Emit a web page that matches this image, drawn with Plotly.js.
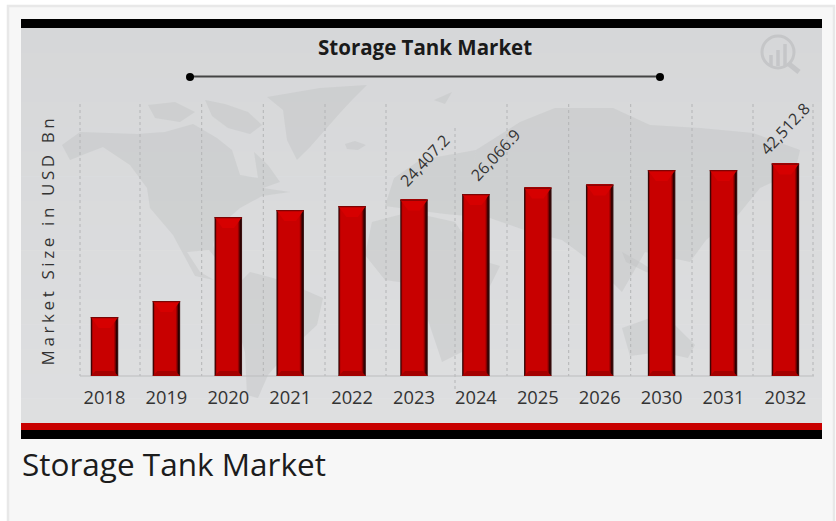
<!DOCTYPE html>
<html>
<head>
<meta charset="utf-8">
<script src="https://cdn.plot.ly/plotly-3.0.1.min.js"></script>
<style>
html,body{margin:0;padding:0;background:#fff;overflow:hidden}
#chart{width:836px;height:521px}
.ytitle{letter-spacing:3.6px}
</style>
</head>
<body>
<div id="chart"></div>
<script>
// Data. Bar heights are not proportional to the printed
// labels in the source, so heights and labels are kept separately.
const categories = ["2018","2019","2020","2021","2022","2023","2024","2025","2026","2030","2031","2032"];
const barValues = [11800,15000,31800,33200,34000,35300,36400,37700,38300,41200,41200,42512.8];
const labelledYears = ["2023","2024","2032"];
const labelTexts = ["24,407.2","26,066.9","42,512.8"];
const chartTitle = "Storage Tank Market";
const axisTitle = "Market Size in USD Bn";

const W=836,H=521,L=80,R=814,T=104,B=376;
const px=x=>(x-L)/(R-L), py=y=>(B-y)/(B-T);
const yPerPx=200.06, xPerPx=1/61.9;
const xs=categories.map((c,i)=>i);
const barW=27.5*xPerPx;

function rect(x0,y0,x1,y1,fill){return {type:'rect',xref:'paper',yref:'paper',x0:px(x0),x1:px(x1),y0:py(y1),y1:py(y0),fillcolor:fill,line:{width:0},layer:'below'};}
function poly(pts,fill){return {type:'path',xref:'paper',yref:'paper',layer:'below',fillcolor:fill,line:{width:0},
  path:'M'+pts.map(p=>px(p[0]).toFixed(4)+','+py(p[1]).toFixed(4)).join('L')+'Z'};}
function line(x0,y0,x1,y1,color,width,dash,layer){return {type:'line',xref:'paper',yref:'paper',x0:px(x0),x1:px(x1),y0:py(y0),y1:py(y1),line:{color:color,width:width,dash:dash||'solid'},layer:layer||'below'};}
function circle(cx,cy,r,fill,stroke,sw){return {type:'circle',xref:'paper',yref:'paper',x0:px(cx-r),x1:px(cx+r),y0:py(cy+r),y1:py(cy-r),fillcolor:fill,line:{color:stroke||fill,width:sw||0},layer:'below'};}

const shapes=[];
// page frame
shapes.push({type:'rect',xref:'paper',yref:'paper',x0:px(8),x1:px(834),y0:py(530),y1:py(6),fillcolor:'#f7f7f7',line:{color:'#e8e8e8',width:2.5},layer:'below'});
// panel with soft vertical shading
const bandCount=16;
for(let i=0;i<bandCount;i++){
  const t=i/(bandCount-1);
  const v=[Math.round(214+t*8),Math.round(215+t*8),Math.round(217+t*7)];
  shapes.push(rect(21,28+i*(395/bandCount),822,28+(i+1)*(395/bandCount)+0.5,`rgb(${v[0]},${v[1]},${v[2]})`));
}
// world map watermark
const land='rgba(190,191,192,0.38)';
[
 [[62,145],[80,132],[137,134],[165,132],[193,124],[217,138],[232,150],[240,175],[258,178],[254,152],[268,165],[280,182],[263,188],[290,192],[262,196],[240,208],[217,228],[213,245],[219,262],[209,250],[187,252],[200,272],[214,280],[195,276],[173,235],[150,208],[147,188],[130,165],[103,147],[90,152],[70,160]],
 [[205,100],[225,104],[248,112],[262,125],[250,134],[228,128],[212,116]],
 [[148,105],[175,102],[195,112],[180,122],[155,118]],
 [[250,272],[273,278],[300,288],[323,298],[317,325],[290,350],[268,375],[258,398],[247,395],[245,352],[233,312],[230,292]],
 [[267,97],[320,88],[367,85],[352,100],[340,113],[325,130],[310,147],[297,160],[287,140],[283,110]],
 [[345,144],[355,141],[366,145],[358,150],[347,149]],
 [[476,150],[520,122],[555,108],[613,108],[650,125],[700,128],[753,133],[800,150],[795,172],[760,188],[738,215],[706,240],[690,262],[645,252],[622,292],[592,262],[562,240],[530,232],[490,218],[470,190]],
 [[385,206],[394,178],[420,160],[476,150],[470,190],[490,218],[445,214]],
 [[372,222],[410,212],[455,222],[480,260],[500,266],[478,310],[462,352],[442,362],[428,320],[420,285],[385,280],[365,255]],
 [[622,328],[650,318],[672,322],[695,345],[688,358],[660,352],[630,356]],
 [[622,252],[640,262],[662,276],[646,272],[626,262]],
 [[434,100],[452,92],[445,104]]
].forEach(p=>shapes.push(poly(p,land)));
// logo watermark
shapes.push(circle(778,52,16,'rgba(0,0,0,0)','#c5c6c8',3));
shapes.push(line(789,64,799,72,'#c5c6c8',5));
shapes.push(line(771,66,771,55,'#c5c6c8',3.5));
shapes.push(line(778,66,778,50,'#c5c6c8',3.5));
shapes.push(line(785,66,785,44,'#c5c6c8',3.5));
// bands
shapes.push(rect(21,19,822,28,'#000000'));
shapes.push(rect(21,423,822,430,'#c80000'));
shapes.push(rect(21,430,822,439,'#000000'));
// title rule
shapes.push(line(190,76.5,660,76.5,'#444444',2));
shapes.push(circle(190,77,4,'#000000'));
shapes.push(circle(660,77,4,'#000000'));
// dotted dividers
[80,140,201.7,263.3,325,386,507,568.7,630.7,692,753,813].forEach(x=>shapes.push(line(x,104,x,376,'#b3b4b6',1,'dot')));
shapes.push(line(455,128,455,391,'#b3b4b6',1,'dot'));
shapes.push(line(80,376,814,376,'#bcbdbe',1));
// bevels on each bar, positioned from the data
barValues.forEach((v,i)=>{
  const a=i-barW/2,b=i+barW/2,ix=8*xPerPx,capH=11*yPerPx,baseH=5*yPerPx,edge=2*yPerPx;
  shapes.push({type:'path',xref:'x',yref:'y',layer:'above',fillcolor:'#d60000',line:{width:0},
    path:`M${a},${v}L${b},${v}L${b-ix},${v-capH}L${a+ix},${v-capH}Z`});
  shapes.push({type:'path',xref:'x',yref:'y',layer:'above',fillcolor:'#a50000',line:{width:0},
    path:`M${a},0L${b},0L${b-ix*0.6},${baseH}L${a+ix*0.6},${baseH}Z`});
  shapes.push({type:'rect',xref:'x',yref:'y',layer:'above',fillcolor:'#7a0505',line:{width:0},
    x0:a,x1:b,y0:v-edge*0.6,y1:v});
});

// bar layers: dark edge to bright face
const layers=[
 {l:0,r:0,c:'#3a1010'},
 {l:0.7,r:1.2,c:'#2a0000'},
 {l:1.0,r:2.2,c:'#6a0000'},
 {l:1.4,r:3.2,c:'#a00000'},
 {l:2.0,r:4.2,c:'#c80000'}
];
const traces=layers.map(s=>({
  type:'bar',x:xs,y:barValues,
  width:xs.map(()=>(27.5-s.l-s.r)*xPerPx),
  offset:xs.map(()=>(-13.75+s.l)*xPerPx),
  marker:{color:s.c,line:{width:0}},hoverinfo:'skip',showlegend:false
}));

// annotations
const labelOffsets=[[10,39],[19.5,39],[-1,35]];
const annotations=labelledYears.map((yr,k)=>{
  const i=categories.indexOf(yr);
  return {x:i,y:barValues[i],xref:'x',yref:'y',text:labelTexts[k],showarrow:false,textangle:-47,
    xshift:labelOffsets[k][0],yshift:labelOffsets[k][1],font:{family:'Open Sans',size:16,color:'#333333'}};
});
annotations.push({xref:'paper',yref:'paper',x:px(425),y:py(47),text:chartTitle,showarrow:false,
  font:{family:'Open Sans',size:20.5,color:'#1a1a1a',weight:700},xanchor:'center',yanchor:'middle'});
annotations.push({xref:'paper',yref:'paper',x:px(20),y:py(463),text:chartTitle,showarrow:false,
  font:{family:'Open Sans',size:31.5,color:'#1c1c1c'},xanchor:'left',yanchor:'middle'});

const layout={
  width:W,height:H,
  margin:{l:L,r:W-R,t:T,b:H-B,pad:0},
  paper_bgcolor:'#ffffff',plot_bgcolor:'rgba(0,0,0,0)',
  barmode:'overlay',showlegend:false,
  xaxis:{type:'linear',range:[(L-104.5)/61.9,(R-104.5)/61.9],tickmode:'array',tickvals:xs,ticktext:categories,
    showgrid:false,zeroline:false,showline:false,ticks:'outside',ticklen:5,tickcolor:'rgba(0,0,0,0)',
    tickfont:{family:'Open Sans',size:18.3,color:'#333333'}},
  yaxis:{range:[0,(B-T)*yPerPx],showgrid:false,zeroline:false,showline:false,showticklabels:false,ticks:'',
    title:{text:axisTitle,font:{family:'Open Sans',size:17,color:'#333333'},standoff:20}},
  shapes:shapes,annotations:annotations
};
Plotly.newPlot('chart',traces,layout,{displayModeBar:false,staticPlot:true});
</script>
</body>
</html>
